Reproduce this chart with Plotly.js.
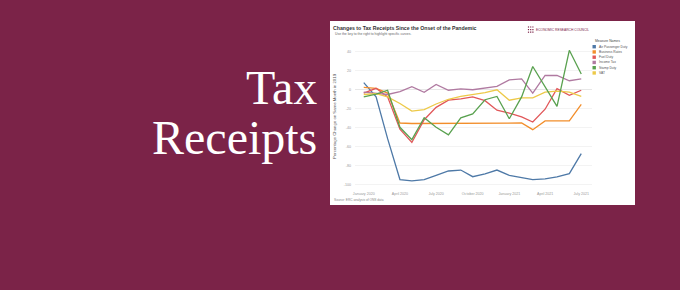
<!DOCTYPE html>
<html><head><meta charset="utf-8">
<script src="https://cdn.plot.ly/plotly-3.0.1.min.js"></script>
<style>html,body{margin:0;padding:0;background:#7b2348;}#chart{width:680px;height:290px;}</style>
</head><body><div id="chart"></div>
<script>
const months = ["2020-01-01","2020-02-01","2020-03-01","2020-04-01","2020-05-01","2020-06-01","2020-07-01","2020-08-01","2020-09-01","2020-10-01","2020-11-01","2020-12-01","2021-01-01","2021-02-01","2021-03-01","2021-04-01","2021-05-01","2021-06-01","2021-07-01"];
const seriesNames = ["Air Passenger Duty","Business Rates","Fuel Duty","Income Tax","Stamp Duty","VAT"];
const airPassengerDuty = [7,-8,-52,-95,-96.5,-95,-90.5,-86,-85,-92,-89,-85,-90.5,-93,-95,-94.4,-92.3,-88.8,-67.7];
const businessRates = [2,1,-4,-35.5,-36,-36,-36,-36,-36,-36,-36,-36,-35.5,-35.5,-42.5,-33.3,-33.3,-33.3,-16];
const fuelDuty = [-4,1,-8,-42,-56,-32,-19,-11.5,-10,-8,-12,-22,-25,-29,-34.5,-21,0.7,-6.3,-1];
const incomeTax = [-3,-4,-5.5,-2.5,2.8,-3.2,5,-1,0.5,-0.5,1,3,9.8,11,-4,14.7,14.5,9,11];
const stampDuty = [-8,-5,-1,-40,-53,-30,-40,-48,-30,-26,-11,-7.5,-31,-8,24,3,-18,41,16];
const vat = [-5.5,-4.5,-8,-15,-23,-21.5,-15.5,-10.5,-7.5,-5.5,-3.5,-0.5,-11.5,-9,-9,-3,-2,-3,-7.5];
const seriesColors = ["#4e79a7","#f28e2b","#e15759","#b07aa1","#59a14f","#edc948"];
const xTickVals = ["2020-01-01","2020-04-01","2020-07-01","2020-10-01","2021-01-01","2021-04-01","2021-07-01"];
const xTickText = ["January 2020","April 2020","July 2020","October 2020","January 2021","April 2021","July 2021"];
const yTickVals = [40,20,0,-20,-40,-60,-80,-100];
const yTickText = ["40","20","0","-20","-40","-60","-80","-100"];

const allSeries = [airPassengerDuty,businessRates,fuelDuty,incomeTax,stampDuty,vat];
const drawOrder = [0,1,2,3,5,4];
const traces = drawOrder.map(i => ({
  type:"scatter", mode:"lines", x:months, y:allSeries[i], name:seriesNames[i],
  line:{color:seriesColors[i], width:1.3}, hoverinfo:"skip"
}));

// plot area in pixels
const L=355, R=592, T=45, B=188, W=R-L, H=B-T;
const px = x => (x-L)/W, py = y => (B-y)/H;
const F = "Liberation Sans, Arial, sans-serif";
const SERIF = "Liberation Serif, Times New Roman, serif";

const shapes = [{type:"rect", xref:"paper", yref:"paper", x0:px(330), x1:px(635), y0:py(205), y1:py(21), fillcolor:"#ffffff", line:{width:0}, layer:"below"}];
const annotations = [
  {xref:"paper", yref:"paper", x:px(319), y:py(87), xanchor:"right", yanchor:"middle", text:"Tax", showarrow:false, font:{family:SERIF, size:48, color:"#ffffff"}},
  {xref:"paper", yref:"paper", x:px(319), y:py(137), xanchor:"right", yanchor:"middle", text:"Receipts", showarrow:false, font:{family:SERIF, size:48, color:"#ffffff"}},
  {xref:"paper", yref:"paper", x:px(333), y:py(33.7), xanchor:"left", yanchor:"middle", text:"Use the key to the right to highlight specific curves.", showarrow:false, font:{family:F, size:3.4, color:"#666"}},
  {xref:"paper", yref:"paper", x:px(332), y:py(200), xanchor:"left", yanchor:"middle", text:"Source: ERC analysis of ONS data", showarrow:false, font:{family:F, size:3.2, color:"#888"}},
  {xref:"paper", yref:"paper", x:px(534), y:py(30), xanchor:"left", yanchor:"middle", text:"ECONOMIC RESEARCH COUNCIL", showarrow:false, font:{family:F, size:3.3, color:"#7b2348"}},
  {xref:"paper", yref:"paper", x:px(592.5), y:py(41), xanchor:"left", yanchor:"middle", text:"Measure Names", showarrow:false, font:{family:F, size:3.4, color:"#444"}}
];
// logo dots
for (let r=0;r<3;r++) for (let c=0;c<3;c++) {
  const cx = 528.5 + c*2.2, cy = 27 + r*2.6;
  shapes.push({type:"rect", xref:"paper", yref:"paper", x0:px(cx-0.6), x1:px(cx+0.6), y0:py(cy+0.6), y1:py(cy-0.6), fillcolor:"#7b2348", line:{width:0}});
}
// manual legend
seriesNames.forEach((n,i) => {
  const cy = 46.7 + i*5.25;
  shapes.push({type:"rect", xref:"paper", yref:"paper", x0:px(592.5), x1:px(595.9), y0:py(cy+1.7), y1:py(cy-1.7), fillcolor:seriesColors[i], line:{width:0}});
  annotations.push({xref:"paper", yref:"paper", x:px(597), y:py(cy), xanchor:"left", yanchor:"middle", text:n, showarrow:false, font:{family:F, size:3.3, color:"#555"}});
});

const layout = {
  width:680, height:290, paper_bgcolor:"#7b2348", plot_bgcolor:"#ffffff",
  margin:{l:L, r:680-R, t:T, b:290-B}, showlegend:false,
  title:{text:"<b>Changes to Tax Receipts Since the Onset of the Pandemic</b>", x:333/680, xanchor:"left", xref:"container", y:1-28/290, yanchor:"middle", yref:"container", font:{family:F, size:5.2, color:"#333"}},
  xaxis:{type:"date", range:["2019-12-10","2021-07-28"], tickvals:xTickVals, ticktext:xTickText, showgrid:false, zeroline:false, showline:false, ticks:"", tickfont:{family:F, size:3.6, color:"#999"}, ticklabelstandoff:2, automargin:false},
  yaxis:{range:[-103.9,46.6], tickvals:yTickVals, ticktext:yTickText, showgrid:true, gridcolor:"#ebebeb", gridwidth:0.6, zeroline:true, zerolinecolor:"#dddddd", zerolinewidth:0.7, showline:false, ticks:"", tickfont:{family:F, size:3.6, color:"#999"}, ticklabelstandoff:3, automargin:false,
    title:{text:"Percentage Change on Same Month in 2019", font:{family:F, size:4.3, color:"#555"}, standoff:7}},
  shapes:shapes, annotations:annotations
};
Plotly.newPlot("chart", traces, layout, {staticPlot:true, displayModeBar:false});
</script></body></html>
